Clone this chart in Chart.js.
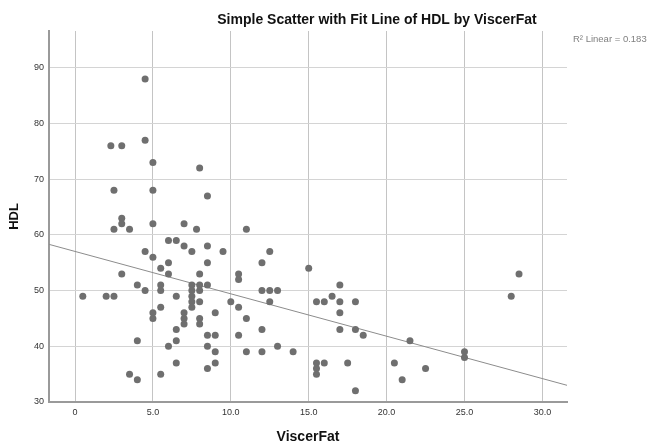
<!DOCTYPE html>
<html>
<head>
<meta charset="utf-8">
<script src="https://cdn.jsdelivr.net/npm/chart.js@4/dist/chart.umd.min.js"></script>
<style>
  html, body { margin: 0; padding: 0; background: #fff; }
  #wrap { width: 649px; height: 444px; }
</style>
</head>
<body>
<div id="wrap"><canvas id="scatterChart" width="649" height="444"></canvas></div>
<script>
// values
const viscerFat = [
    4.5, 4.5, 2.3, 3.0, 5.0, 8.0, 2.5, 5.0, 8.5, 3.0,
    3.0, 2.5, 3.5, 5.0, 7.0, 7.8, 11.0, 6.0, 6.5, 7.0,
    8.5, 4.5, 7.5, 9.5, 12.5, 5.0, 6.0, 8.5, 12.0, 5.5,
    15.0, 3.0, 6.0, 8.0, 10.5, 28.5, 10.5, 4.0, 5.5, 7.5,
    8.0, 8.5, 17.0, 4.5, 5.5, 7.5, 8.0, 12.0, 12.5, 13.0,
    0.5, 2.0, 2.5, 6.5, 7.5, 16.5, 28.0, 7.5, 8.0, 10.0,
    12.5, 15.5, 16.0, 17.0, 18.0, 5.5, 7.5, 10.5, 5.0, 7.0,
    9.0, 17.0, 5.0, 7.0, 8.0, 11.0, 7.0, 8.0, 6.5, 12.0,
    17.0, 18.0, 8.5, 9.0, 10.5, 18.5, 4.0, 6.5, 21.5, 6.0,
    8.5, 13.0, 9.0, 11.0, 12.0, 14.0, 25.0, 25.0, 6.5, 9.0,
    15.5, 16.0, 17.5, 20.5, 8.5, 15.5, 22.5, 3.5, 5.5, 15.5,
    4.0, 21.0, 18.0
];
const hdl = [
    88, 77, 76, 76, 73, 72, 68, 68, 67, 63,
    62, 61, 61, 62, 62, 61, 61, 59, 59, 58,
    58, 57, 57, 57, 57, 56, 55, 55, 55, 54,
    54, 53, 53, 53, 53, 53, 52, 51, 51, 51,
    51, 51, 51, 50, 50, 50, 50, 50, 50, 50,
    49, 49, 49, 49, 49, 49, 49, 48, 48, 48,
    48, 48, 48, 48, 48, 47, 47, 47, 46, 46,
    46, 46, 45, 45, 45, 45, 44, 44, 43, 43,
    43, 43, 42, 42, 42, 42, 41, 41, 41, 40,
    40, 40, 39, 39, 39, 39, 39, 38, 37, 37,
    37, 37, 37, 37, 36, 36, 36, 35, 35, 35,
    34, 34, 32
];
// fit line end points (read at the plot edges)
const fitX = [-1.67, 31.58];
const fitY = [58.3, 33.0];

const xTicks = [0, 5, 10, 15, 20, 25, 30];
const xTickLabels = ['0', '5.0', '10.0', '15.0', '20.0', '25.0', '30.0'];
const yTicks = [30, 40, 50, 60, 70, 80, 90];
const yTickLabels = ['30', '40', '50', '60', '70', '80', '90'];

const chartTitle = 'Simple Scatter with Fit Line of HDL by ViscerFat';
const fitLabel = 'R\u00B2 Linear = 0.183';
const xTitle = 'ViscerFat';
const yTitle = 'HDL';

const FONT = '"Liberation Sans", Arial, sans-serif';

const textPlugin = {
    id: 'spssText',
    afterDraw(chart) {
        const ctx = chart.ctx;
        const area = chart.chartArea;
        ctx.save();
        ctx.fillStyle = '#111';
        ctx.textBaseline = 'middle';
        ctx.textAlign = 'center';
        ctx.font = 'bold 14px ' + FONT;
        ctx.fillText(chartTitle, 377, 20);

        ctx.fillText(xTitle, (area.left + area.right) / 2, 437);

        ctx.save();
        ctx.font = 'bold 13px ' + FONT;
        ctx.translate(14, (area.top + area.bottom) / 2);
        ctx.rotate(-Math.PI / 2);
        ctx.fillText(yTitle, 0, 0);
        ctx.restore();

        ctx.textAlign = 'left';
        ctx.fillStyle = '#808080';
        ctx.font = '9.5px ' + FONT;
        ctx.fillText(fitLabel, area.right + 6, 39);
        ctx.restore();
    }
};

const ctx = document.getElementById('scatterChart').getContext('2d');
const scatterChart = new Chart(ctx, {
    type: 'scatter',
    data: {
        datasets: [{
            label: 'HDL',
            data: viscerFat.map((v, i) => ({ x: v, y: hdl[i] })),
            backgroundColor: '#6f6f6f',
            borderWidth: 0,
            pointRadius: 3.5,
            order: 1
        }, {
            label: 'Fit',
            type: 'line',
            data: fitX.map((v, i) => ({ x: v, y: fitY[i] })),
            borderColor: '#8c8c8c',
            borderWidth: 1,
            pointRadius: 0,
            fill: false,
            order: 2
        }]
    },
    options: {
        responsive: false,
        animation: false,
        layout: { padding: { left: 0, top: 31, right: 82, bottom: 0 } },
        plugins: {
            legend: { display: false },
            tooltip: { enabled: false },
            title: { display: false }
        },
        scales: {
            x: {
                type: 'linear',
                min: -1.67,
                max: 31.58,
                afterBuildTicks: (scale) => { scale.ticks = xTicks.map(v => ({ value: v })); },
                afterFit: (scale) => { scale.height = 42; },
                ticks: {
                    callback: (v) => xTickLabels[xTicks.indexOf(v)],
                    color: '#333',
                    font: { family: FONT, size: 9 },
                    padding: 5,
                    maxRotation: 0
                },
                grid: { color: '#c4c4c4', lineWidth: 1, drawTicks: false },
                border: { color: '#9a9a9a', width: 2 }
            },
            y: {
                type: 'linear',
                min: 30,
                max: 96.6,
                afterBuildTicks: (scale) => { scale.ticks = yTicks.map(v => ({ value: v })); },
                afterFit: (scale) => { scale.width = 49; },
                ticks: {
                    callback: (v) => yTickLabels[yTicks.indexOf(v)],
                    color: '#333',
                    font: { family: FONT, size: 9 },
                    padding: 5
                },
                grid: { color: '#d4d4d4', lineWidth: 1, drawTicks: false },
                border: { color: '#9a9a9a', width: 2 }
            }
        }
    },
    plugins: [textPlugin]
});
</script>
</body>
</html>
